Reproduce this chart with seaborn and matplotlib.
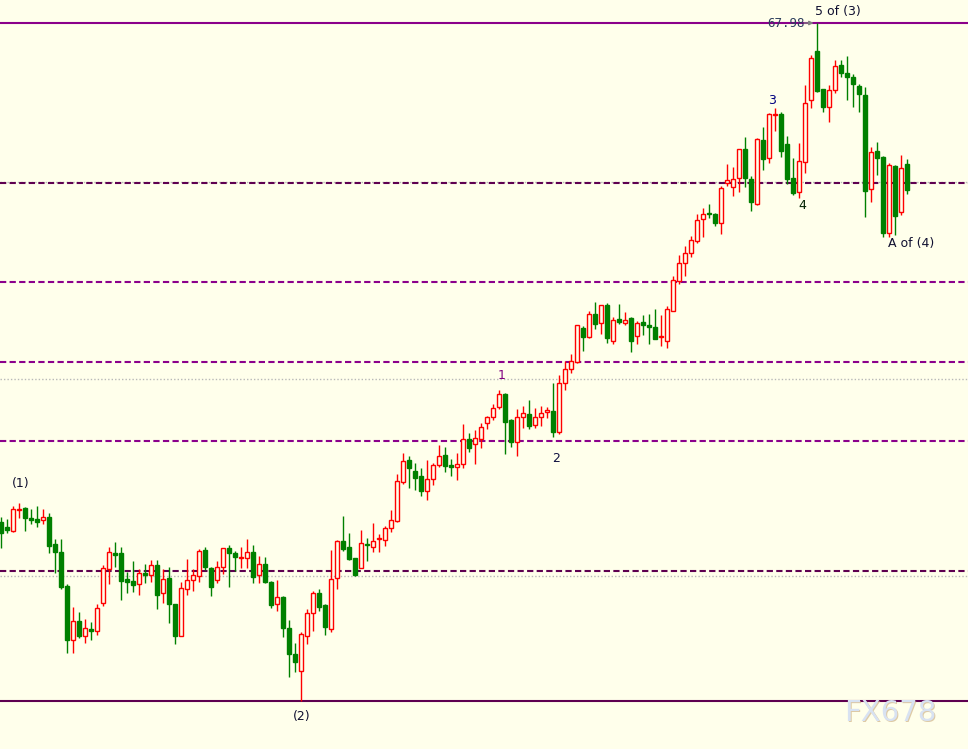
import numpy as np
import pandas as pd
import matplotlib
matplotlib.use('Agg')
import matplotlib.pyplot as plt
import matplotlib.transforms as mtransforms
import seaborn as sns

# OHLC (one candle per bar)
opens = [62.99, 62.94, 62.90, 63.11, 63.13, 63.03, 63.02, 63.01, 63.04, 62.77,
         62.69, 62.35, 61.81, 62.00, 61.85, 61.92, 61.90, 62.18, 62.52, 62.68,
         62.68, 62.42, 62.40, 62.37, 62.48, 62.46, 62.56, 62.28, 62.43, 62.17,
         61.85, 62.32, 62.41, 62.45, 62.71, 62.53, 62.41, 62.54, 62.73, 62.68,
         62.63, 62.63, 62.69, 62.46, 62.57, 62.39, 62.17, 62.24, 61.93, 61.67,
         61.50, 61.85, 62.08, 62.28, 62.16, 61.92, 62.43, 62.80, 62.74, 62.63,
         62.53, 62.77, 62.74, 62.82, 62.81, 62.93, 63.00, 63.39, 63.61, 63.50,
         63.45, 63.30, 63.42, 63.56, 63.66, 63.56, 63.54, 63.57, 63.82, 63.77,
         63.82, 63.98, 64.04, 64.14, 64.27, 64.01, 63.79, 64.04, 64.07, 63.96,
         64.04, 64.09, 64.10, 63.89, 64.38, 64.52, 64.59, 64.93, 64.84, 65.07,
         64.98, 65.16, 64.80, 65.02, 64.98, 65.03, 64.85, 64.99, 64.96, 64.94,
         64.84, 64.80, 65.10, 65.40, 65.58, 65.68, 65.80, 66.02, 66.08, 66.07,
         65.98, 66.38, 66.34, 66.43, 66.72, 66.42, 66.17, 66.81, 66.63, 67.06,
         67.07, 66.77, 66.43, 66.29, 66.59, 67.21, 67.70, 67.32, 67.14, 67.31,
         67.56, 67.48, 67.44, 67.35, 67.26, 66.32, 66.70, 66.64, 65.88, 66.55,
         66.09, 66.57]
highs = [63.04, 63.02, 63.15, 63.18, 63.14, 63.12, 63.15, 63.12, 63.08, 62.82,
         62.82, 62.37, 62.14, 62.09, 62.02, 61.99, 62.17, 62.56, 62.74, 62.79,
         62.74, 62.49, 62.60, 62.52, 62.57, 62.61, 62.61, 62.52, 62.54, 62.17,
         62.39, 62.62, 62.52, 62.72, 62.74, 62.54, 62.60, 62.73, 62.76, 62.70,
         62.74, 62.82, 62.76, 62.65, 62.64, 62.40, 62.41, 62.25, 62.01, 61.78,
         61.89, 62.12, 62.30, 62.32, 62.17, 62.71, 62.81, 63.05, 62.88, 62.63,
         62.91, 62.83, 62.98, 62.87, 62.95, 63.11, 63.47, 63.68, 63.65, 63.58,
         63.53, 63.61, 63.58, 63.76, 63.74, 63.62, 63.68, 63.97, 63.88, 63.91,
         63.98, 64.05, 64.17, 64.31, 64.28, 64.02, 64.12, 64.15, 64.21, 64.13,
         64.15, 64.14, 64.38, 64.46, 64.60, 64.67, 64.96, 64.95, 65.10, 65.19,
         65.16, 65.18, 65.04, 65.17, 65.09, 65.04, 65.00, 65.06, 65.07, 65.12,
         65.06, 65.15, 65.45, 65.66, 65.75, 65.85, 66.07, 66.13, 66.17, 66.08,
         66.35, 66.57, 66.54, 66.72, 66.84, 66.45, 66.83, 66.94, 67.08, 67.13,
         67.09, 66.85, 66.63, 66.78, 67.36, 67.66, 67.98, 67.32, 67.36, 67.61,
         67.61, 67.65, 67.47, 67.37, 67.34, 66.74, 66.79, 66.65, 66.58, 66.56,
         66.66, 66.62]
lows = [62.73, 62.88, 62.89, 63.03, 62.90, 62.97, 62.94, 62.97, 62.68, 62.48,
        62.32, 61.68, 61.68, 61.83, 61.78, 61.81, 61.86, 62.15, 62.37, 62.54,
        62.21, 62.28, 62.29, 62.26, 62.38, 62.39, 62.12, 62.18, 61.98, 61.77,
        61.85, 62.26, 62.30, 62.39, 62.51, 62.25, 62.38, 62.47, 62.34, 62.50,
        62.53, 62.53, 62.38, 62.38, 62.38, 62.13, 62.10, 61.84, 61.44, 61.49,
        61.20, 61.77, 61.90, 62.10, 61.86, 61.89, 62.32, 62.70, 62.61, 62.45,
        62.53, 62.60, 62.69, 62.69, 62.75, 62.89, 62.99, 63.37, 63.33, 63.31,
        63.25, 63.21, 63.36, 63.54, 63.49, 63.45, 63.41, 63.53, 63.69, 63.57,
        63.73, 63.92, 64.01, 64.12, 63.67, 63.74, 63.65, 63.93, 63.92, 63.93,
        63.95, 64.03, 63.84, 63.87, 64.31, 64.48, 64.58, 64.70, 64.83, 64.92,
        64.87, 64.78, 64.77, 64.97, 64.96, 64.69, 64.77, 64.86, 64.77, 64.82,
        64.75, 64.73, 65.10, 65.37, 65.45, 65.64, 65.78, 65.84, 66.03, 65.95,
        65.87, 66.35, 66.25, 66.29, 66.34, 66.10, 66.16, 66.51, 66.58, 66.90,
        66.64, 66.37, 66.26, 66.23, 66.48, 67.13, 67.29, 67.09, 66.99, 67.28,
        67.44, 67.21, 67.14, 67.09, 66.04, 66.19, 66.46, 65.84, 65.84, 65.86,
        66.06, 66.27]
closes = [62.88, 62.91, 63.12, 63.12, 63.03, 63.01, 62.99, 63.04, 62.75, 62.69,
          62.34, 61.81, 62.00, 61.85, 61.93, 61.90, 62.13, 62.53, 62.69, 62.66,
          62.40, 62.39, 62.36, 62.48, 62.46, 62.56, 62.26, 62.42, 62.17, 61.85,
          62.33, 62.41, 62.46, 62.70, 62.54, 62.34, 62.54, 62.73, 62.68, 62.64,
          62.63, 62.69, 62.44, 62.57, 62.39, 62.16, 62.24, 61.93, 61.67, 61.59,
          61.87, 62.08, 62.28, 62.14, 61.94, 62.42, 62.80, 62.72, 62.62, 62.46,
          62.78, 62.76, 62.80, 62.82, 62.93, 63.01, 63.40, 63.60, 63.53, 63.43,
          63.30, 63.42, 63.56, 63.65, 63.55, 63.54, 63.57, 63.82, 63.73, 63.83,
          63.94, 64.04, 64.13, 64.27, 63.99, 63.79, 64.04, 64.08, 63.95, 64.04,
          64.08, 64.11, 63.89, 64.38, 64.52, 64.60, 64.96, 64.84, 65.07, 64.97,
          65.16, 64.83, 65.01, 64.99, 65.01, 64.80, 64.98, 64.96, 64.94, 64.82,
          64.84, 65.12, 65.41, 65.58, 65.68, 65.81, 66.01, 66.07, 66.07, 65.98,
          66.33, 66.41, 66.42, 66.72, 66.43, 66.19, 66.82, 66.62, 67.07, 67.07,
          66.70, 66.42, 66.28, 66.60, 67.18, 67.63, 67.30, 67.14, 67.31, 67.55,
          67.48, 67.44, 67.37, 67.27, 66.30, 66.69, 66.63, 65.88, 66.56, 66.05,
          66.53, 66.31]

# horizontal levels
solid_levels = [67.98, 61.20]
dashed_levels = [66.38, 65.39, 64.59, 63.80, 62.50]
dotted_levels = [66.395, 64.42, 62.45]

# wave labels: text, bar index, price
wave_labels = ['(1)', '(2)', '1', '2', '3', '4', '5 of (3)', 'A of (4)']
wave_x = [3.33, 50.17, 83.5, 92.5, 128.5, 133.5, 139.5, 151.67]
wave_y = [63.38, 61.05, 64.46, 63.62, 67.20, 66.15, 68.10, 65.77]
wave_colors = ['#101030', '#101030', '#800080', '#101040', '#000080',
               '#002000', '#101030', '#101030']

df = pd.DataFrame({'open': opens, 'high': highs, 'low': lows, 'close': closes})
df['idx'] = np.arange(len(df))
df['up'] = df['close'] >= df['open']

bg = '#FFFFEB'
sns.set_theme(style='white', rc={'axes.facecolor': bg, 'figure.facecolor': bg})
plt.rcParams['font.family'] = ['DejaVu Sans']

fig = plt.figure(figsize=(9.68, 7.49), dpi=100)
ax = fig.add_axes([0, 0, 1, 1])

# reference lines
for lv in dotted_levels:
    ax.axhline(lv, color='#B8B8B8', lw=1.0, ls=(0, (1, 1.5)), zorder=0.5)
ax.axhline(solid_levels[0], color='#8B008B', lw=1.5, zorder=1)
ax.axhline(solid_levels[1], color='#5E0050', lw=1.5, zorder=1)
for i, lv in enumerate(dashed_levels):
    col = '#5E0050' if i in (0, 4) else '#8B008B'
    ax.axhline(lv, color=col, lw=1.5, ls=(0, (3, 1.6)), zorder=1)

# candles
red, green = '#FF0000', '#008000'
colors = np.where(df['up'], red, green)
ax.vlines(df['idx'], df['low'], df['high'], colors=colors, lw=1.0, zorder=2)
body_lo = df[['open', 'close']].min(axis=1)
body_h = (df['close'] - df['open']).abs().clip(lower=0.006)
faces = np.where(df['up'], bg, green)
ax.bar(df['idx'], body_h, bottom=body_lo, width=0.72, color=faces,
       edgecolor=colors, linewidth=1.0, zorder=3)

# labels
for t, x, y, c in zip(wave_labels, wave_x, wave_y, wave_colors):
    ax.text(x, y, t, ha='center', va='center', fontsize=9, color=c, zorder=5)

ax.annotate('', xy=(135.9, 67.98), xytext=(133.4, 67.98),
            arrowprops=dict(arrowstyle='-|>', color='#808080', lw=1.0,
                            mutation_scale=6), zorder=5)
ax.text(130.9, 67.975, '67.98', ha='center', va='center', fontsize=9,
        family='DejaVu Sans Mono', color='#2C3E5C', zorder=5)

shadow = ax.transData + mtransforms.ScaledTranslation(1.5 / 100, -1.5 / 100, fig.dpi_scale_trans)
ax.text(148.2, 61.08, 'FX678', ha='center', va='center', fontsize=21,
        color='#C8A878', alpha=0.6, zorder=4, transform=shadow)
ax.text(148.2, 61.08, 'FX678', ha='center', va='center', fontsize=21,
        color='#D8E2F2', zorder=5)

ax.set_xlim(-0.17, 161.17)
ax.set_ylim(60.72, 68.21)
ax.set_xticks([])
ax.set_yticks([])
sns.despine(ax=ax, left=True, bottom=True)

fig.savefig('out.png', dpi=100, facecolor=bg)
